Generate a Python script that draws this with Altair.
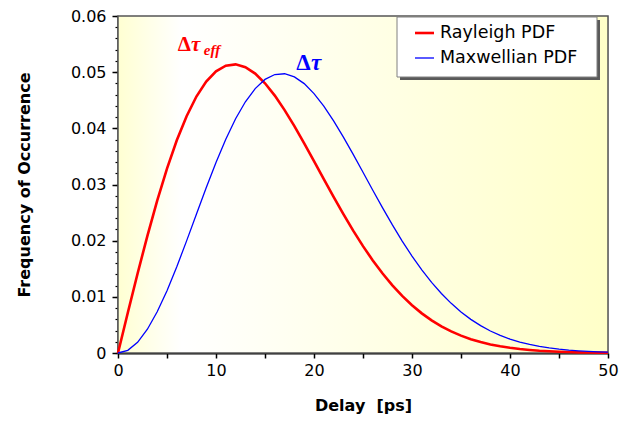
import altair as alt
import pandas as pd

# ---------------- data ----------------
delay = list(range(0, 51))
rayleigh = [0.0, 0.00716, 0.01416, 0.02086, 0.02712, 0.03283, 0.03787, 0.04216, 0.04566, 0.04832,
            0.05015, 0.05116, 0.05139, 0.05089, 0.04974, 0.04802, 0.04583, 0.04325, 0.04039, 0.03733,
            0.03416, 0.03095, 0.02779, 0.02472, 0.02179, 0.01903, 0.01648, 0.01415, 0.01204, 0.01016,
            0.00851, 0.00706, 0.00581, 0.00475, 0.00385, 0.00309, 0.00246, 0.00195, 0.00153, 0.00119,
            0.00092, 0.00070, 0.00054, 0.00040, 0.00030, 0.00022, 0.00017, 0.00012, 0.00009, 0.00006,
            0.00005]
maxwell = [0.0, 0.00048, 0.00191, 0.00423, 0.00734, 0.01110, 0.01536, 0.01996, 0.02470, 0.02941,
           0.03391, 0.03805, 0.04170, 0.04473, 0.04708, 0.04871, 0.04958, 0.04972, 0.04915, 0.04796,
           0.04619, 0.04395, 0.04134, 0.03844, 0.03536, 0.03217, 0.02897, 0.02583, 0.02280, 0.01993,
           0.01726, 0.01480, 0.01258, 0.01059, 0.00884, 0.00731, 0.00599, 0.00487, 0.00392, 0.00314,
           0.00248, 0.00195, 0.00152, 0.00117, 0.00090, 0.00068, 0.00051, 0.00039, 0.00029, 0.00021,
           0.00015]

series_names = ["Rayleigh PDF", "Maxwellian PDF"]
series_colors = ["#FF0000", "#0000FF"]

x_ticks = [0, 5, 10, 15, 20, 25, 30, 35, 40, 45, 50]
y_major = [0, 0.01, 0.02, 0.03, 0.04, 0.05, 0.06]
y_minor = [round(i * 0.002, 3) for i in range(31)]

# annotation pieces: text, x, y, color, size, style
ann_text = ["Δ", "τ", "eff", "Δ", "τ"]
ann_x = [6.1, 7.45, 8.75, 18.2, 19.7]
ann_y = [0.0538, 0.0538, 0.0531, 0.0503, 0.0503]
ann_color = ["#FF0000", "#FF0000", "#FF0000", "#0000FF", "#0000FF"]
ann_size = [21, 21, 15, 23, 23]
ann_style = ["normal", "italic", "italic", "normal", "italic"]

FONT = "DejaVu Sans"

df_r = pd.DataFrame({"delay": delay, "value": rayleigh})
df_m = pd.DataFrame({"delay": delay, "value": maxwell})
df_bg = pd.DataFrame({"x0": [0], "x1": [50], "y0": [0.0], "y1": [0.06]})
one = pd.DataFrame({"a": [0]})

xscale = alt.Scale(domain=[0, 50], nice=False, zero=False)
yscale = alt.Scale(domain=[0, 0.06], nice=False, zero=True)

x_axis = alt.Axis(values=x_ticks, labelExpr="datum.value % 10 == 0 ? datum.label : ''",
                  title="Delay\u00a0\u00a0[ps]", grid=False, orient="bottom", domainColor="black",
                  domainWidth=2, tickColor="black", tickWidth=1.5, tickSize=5, labelFont=FONT,
                  labelFontSize=16, labelColor="black", labelPadding=4, titleFont=FONT,
                  titleFontSize=16, titleFontWeight="bold", titleColor="black", titlePadding=19,
                  labelFlush=False)

y_axis = alt.Axis(values=y_major, labelExpr="datum.value == 0 ? '0' : format(datum.value, '.2f')",
                  title="Frequency of Occurrence", grid=False, orient="left", domainColor="black",
                  domainWidth=2, tickColor="black", tickWidth=1.5, tickSize=6, labelFont=FONT,
                  labelFontSize=16, labelColor="black", labelPadding=6, titleFont=FONT,
                  titleFontSize=16, titleFontWeight="bold", titleColor="black", titlePadding=38,
                  labelFlush=False)

y_minor_axis = alt.Axis(values=y_minor, labels=False, title=None, grid=False, orient="left",
                        domain=False, tickColor="black", tickWidth=1.2, tickSize=3)

gradient = alt.LinearGradient(
    gradient="linear", x1=0, y1=0, x2=1, y2=0,
    stops=[alt.GradientStop(offset=0, color="#FFFFD2"),
           alt.GradientStop(offset=0.13, color="#FFFFFF"),
           alt.GradientStop(offset=1, color="#FFFFC8")])

bg = alt.Chart(df_bg).mark_rect(fill=gradient, stroke="#555555", strokeWidth=1.5).encode(
    x=alt.X("x0:Q", scale=xscale, axis=x_axis), x2="x1:Q",
    y=alt.Y("y0:Q", scale=yscale, axis=y_minor_axis), y2="y1:Q")

red = alt.Chart(df_r).mark_line(color=series_colors[0], strokeWidth=2.6).encode(
    x=alt.X("delay:Q", scale=xscale, axis=x_axis),
    y=alt.Y("value:Q", scale=yscale, axis=y_axis))

blue = alt.Chart(df_m).mark_line(color=series_colors[1], strokeWidth=1.3).encode(
    x=alt.X("delay:Q", scale=xscale, axis=x_axis),
    y=alt.Y("value:Q", scale=yscale, axis=None))

ann_layers = []
for t, ax, ay, c, s, st in zip(ann_text, ann_x, ann_y, ann_color, ann_size, ann_style):
    d = pd.DataFrame({"x": [ax], "y": [ay], "t": [t]})
    ann_layers.append(
        alt.Chart(d).mark_text(font="Liberation Serif", fontWeight="bold", fontStyle=st,
                               fontSize=s, color=c, align="left", baseline="alphabetic").encode(
            x=alt.X("x:Q", scale=xscale, axis=x_axis),
            y=alt.Y("y:Q", scale=yscale, axis=None),
            text="t:N"))

# legend (pixel positions relative to plot area)
leg_shadow = alt.Chart(one).mark_rect(fill="#5a5a5a").encode(
    x=alt.value(282), x2=alt.value(482), y=alt.value(4), y2=alt.value(64))
leg_box = alt.Chart(one).mark_rect(fill="white", stroke="#808080", strokeWidth=1).encode(
    x=alt.value(279), x2=alt.value(479), y=alt.value(1), y2=alt.value(61))
leg_r = alt.Chart(one).mark_rule(color=series_colors[0], strokeWidth=2.6).encode(
    x=alt.value(297), x2=alt.value(316), y=alt.value(17))
leg_b = alt.Chart(one).mark_rule(color=series_colors[1], strokeWidth=1.3).encode(
    x=alt.value(297), x2=alt.value(316), y=alt.value(42))
leg_t1 = alt.Chart(one).mark_text(text=series_names[0], font=FONT, fontSize=17.5, color="black",
                                  align="left", baseline="middle").encode(
    x=alt.value(322), y=alt.value(17))
leg_t2 = alt.Chart(one).mark_text(text=series_names[1], font=FONT, fontSize=17.5, color="black",
                                  align="left", baseline="middle").encode(
    x=alt.value(322), y=alt.value(42))

chart = alt.layer(bg, red, blue, *ann_layers, leg_shadow, leg_box, leg_r, leg_b, leg_t1, leg_t2
                  ).resolve_axis(y="independent").properties(
    width=490, height=337,
    autosize=alt.AutoSizeParams(type="none"),
    padding={"left": 110, "top": 8, "right": 20, "bottom": 62},
).configure_view(stroke=None).configure(background="white")

chart.save("out.html", embed_options={"renderer": "svg", "actions": False})
